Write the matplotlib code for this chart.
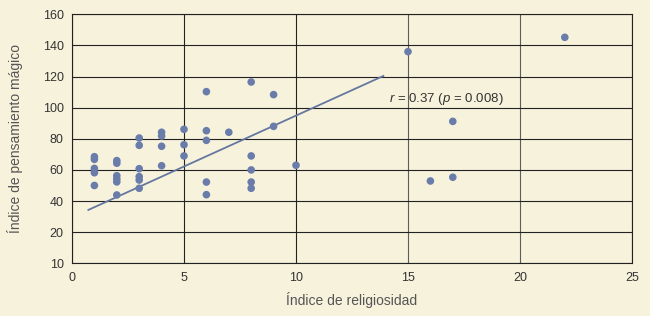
import numpy as np
import matplotlib
matplotlib.use('Agg')
import matplotlib.pyplot as plt

# religiosity index vs magical-thinking index
religiosidad = [1, 1, 1, 1, 1,
                2, 2, 2, 2, 2, 2,
                3, 3, 3, 3, 3, 3,
                4, 4, 4, 4,
                5, 5, 5,
                6, 6, 6, 6, 6,
                7,
                8, 8, 8, 8, 8,
                9, 9,
                10,
                15, 16, 17, 17, 22]
pensamiento = [68.5, 66.8, 61, 58.2, 50,
               66, 64.3, 56.3, 54.2, 52.3, 43.9,
               80.5, 75.8, 60.8, 55.7, 53.5, 48.2,
               84.2, 81.8, 75.2, 62.7,
               86.1, 76.2, 69,
               110.3, 85.2, 79, 52.2, 44.1,
               84.2,
               116.5, 69, 60, 52.2, 48.2,
               108.4, 88,
               63,
               136, 52.9, 91.2, 55.3, 145.2]

fit_x = [0.73, 13.9]
fit_y = [34.3, 120.4]

x_ticks = [0, 5, 10, 15, 20, 25]
y_ticks = [0, 20, 40, 60, 80, 100, 120, 140, 160]
y_tick_labels = ['10', '20', '40', '60', '80', '100', '120', '140', '160']

bg = '#F7F2DC'
dot = '#6A7DAA'

plt.rcParams['font.family'] = ['Liberation Sans Narrow', 'Liberation Sans', 'DejaVu Sans']
plt.rcParams['mathtext.fontset'] = 'custom'
plt.rcParams['mathtext.it'] = 'Liberation Sans:italic'

fig = plt.figure(figsize=(6.5, 3.16), dpi=100, facecolor=bg)
ax = fig.add_axes([72 / 650, 52.7 / 316, 560 / 650, 249 / 316])
ax.set_facecolor(bg)

ax.set_xlim(0, 25)
ax.set_ylim(0, 160)
ax.set_xticks(x_ticks)
ax.set_yticks(y_ticks)
ax.set_yticklabels(y_tick_labels)
ax.tick_params(length=0, labelsize=9, colors='#333333', pad=6)

ax.grid(True, color='#222222', linewidth=0.8)
ax.set_axisbelow(True)
# the two right-hand vertical lines are lighter in the original
for gl, v in zip(ax.get_xgridlines(), x_ticks):
    if v in (15, 20):
        gl.set_color('#5e5e54')
for s in ax.spines.values():
    s.set_color('#222222')
    s.set_linewidth(0.8)

ax.plot(fit_x, fit_y, color='#6577A0', linewidth=1.3, zorder=3)
ax.scatter(religiosidad, pensamiento, s=30, color=dot, edgecolors='none', zorder=4)

ax.text(14.17, 105.6, r'$r$ = 0.37 ($p$ = 0.008)', fontsize=9.5, color='#333333',
        va='center', ha='left', zorder=5,
        family=['Liberation Sans', 'DejaVu Sans'])

ax.set_xlabel('Índice de religiosidad', fontsize=10, color='#555555', labelpad=6)
ax.set_ylabel('Índice de pensamiento mágico', fontsize=10, color='#555555', labelpad=14)

fig.savefig('out.png', dpi=100, facecolor=bg)
